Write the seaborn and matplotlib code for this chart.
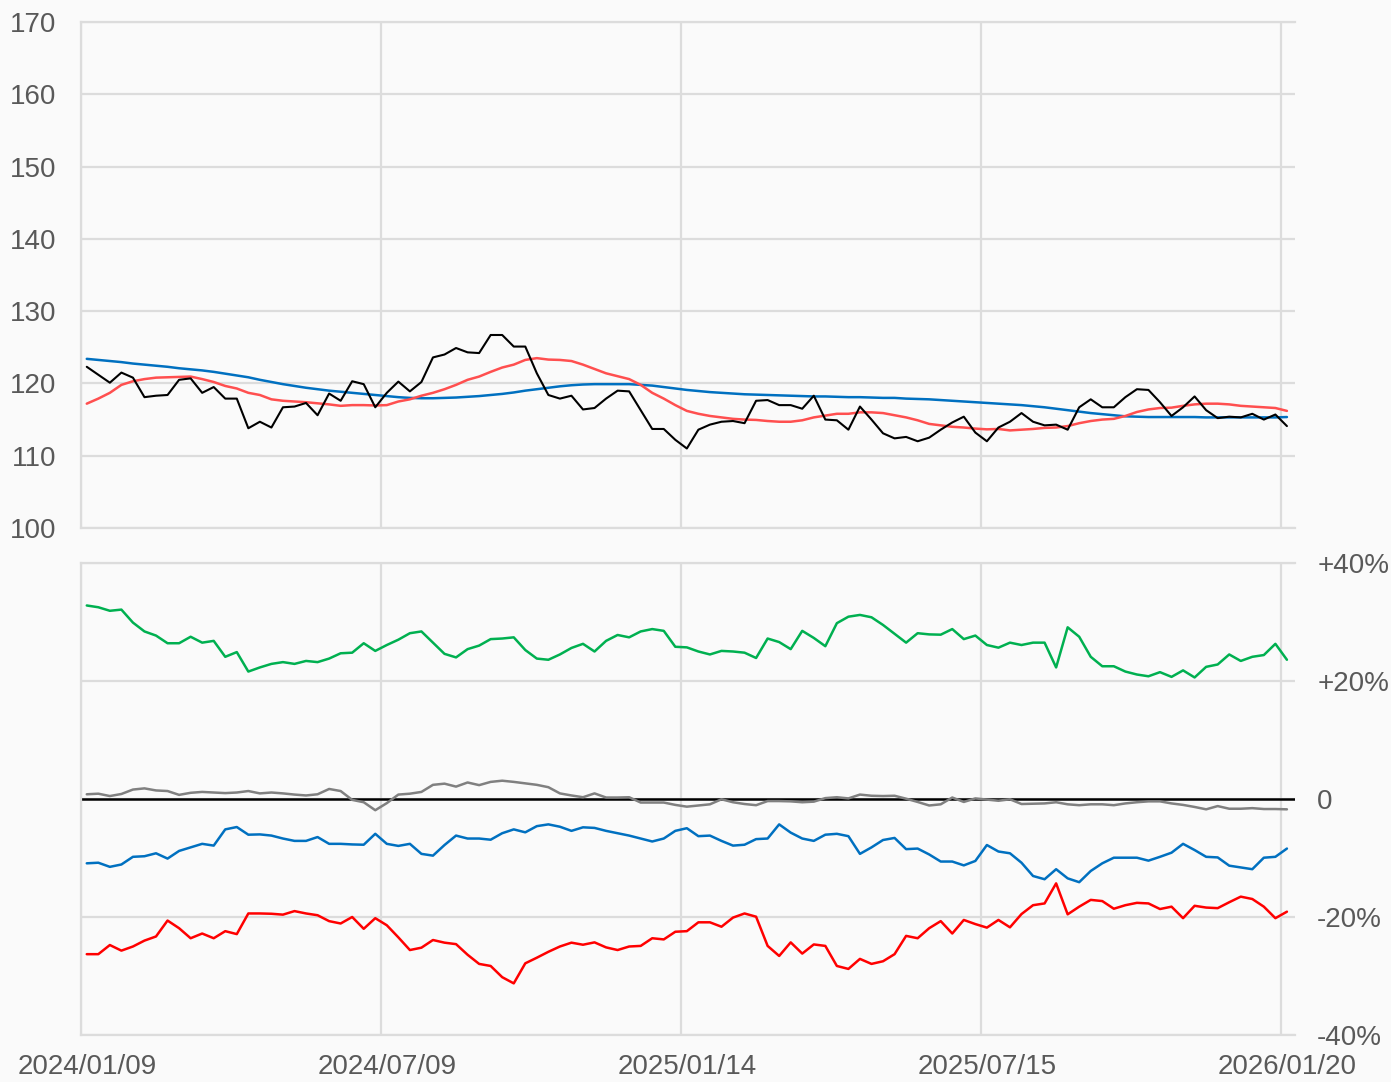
import matplotlib

matplotlib.use("Agg")
import matplotlib.pyplot as plt
import numpy as np
import seaborn as sns

# ---- weekly closing price and moving averages (top panel) ----
price = [
    122.3, 121.2, 120.1, 121.5, 120.8, 118.1, 118.3, 118.4, 120.5, 120.7,
    118.7, 119.5, 117.9, 117.9, 113.8, 114.7, 113.9, 116.7, 116.8, 117.3,
    115.6, 118.6, 117.6, 120.3, 119.9, 116.7, 118.7, 120.25, 118.9, 120.2,
    123.6, 124.0, 124.9, 124.3, 124.2, 126.7, 126.7, 125.1, 125.1, 121.4,
    118.4, 117.9, 118.3, 116.4, 116.6, 117.9, 119.0, 118.9, 116.3, 113.7,
    113.7, 112.2, 111.0, 113.6, 114.3, 114.7, 114.8, 114.5, 117.6, 117.7,
    117.0, 117.0, 116.5, 118.3, 115.0, 114.9, 113.6, 116.8, 115.0, 113.1,
    112.4, 112.6, 112.0, 112.5, 113.6, 114.6, 115.4, 113.2, 112.0, 113.9,
    114.7, 115.9, 114.7, 114.2, 114.3, 113.6, 116.7, 117.8, 116.7, 116.7,
    118.1, 119.2, 119.1, 117.4, 115.5, 116.7, 118.2, 116.3, 115.2, 115.4,
    115.3, 115.8, 115.0, 115.7, 114.1,
]
ma_short = [
    117.2, 117.9, 118.7, 119.8, 120.3, 120.6, 120.8, 120.85, 120.9, 120.95,
    120.6, 120.2, 119.65, 119.3, 118.7, 118.4, 117.8, 117.6, 117.5, 117.4,
    117.25, 117.1, 116.9, 117.0, 117.0, 116.95, 117.0, 117.5, 117.8, 118.3,
    118.7, 119.2, 119.8, 120.5, 120.95, 121.6, 122.2, 122.6, 123.25, 123.5,
    123.3, 123.25, 123.1, 122.6, 122.0, 121.4, 121.0, 120.6, 119.8, 118.7,
    117.9, 117.0, 116.2, 115.8, 115.5, 115.3, 115.1, 115.0, 114.95, 114.8,
    114.7, 114.7, 114.9, 115.3, 115.55, 115.8, 115.8, 116.0, 116.0, 115.9,
    115.6, 115.3, 114.9, 114.4, 114.2, 114.0, 113.9, 113.75, 113.65, 113.7,
    113.5, 113.6, 113.7, 113.85, 113.9, 114.1, 114.5, 114.8, 115.0, 115.1,
    115.5, 116.05, 116.4, 116.6, 116.65, 116.9, 117.1, 117.2, 117.2, 117.1,
    116.9, 116.8, 116.7, 116.6, 116.2,
]
ma_long = [
    123.4, 123.25, 123.1, 122.95, 122.75, 122.6, 122.45, 122.3, 122.1, 121.95,
    121.8, 121.6, 121.35, 121.1, 120.85, 120.5, 120.2, 119.9, 119.65, 119.4,
    119.2, 119.0, 118.85, 118.7, 118.55, 118.4, 118.25, 118.1, 118.0, 117.95,
    117.95, 118.0, 118.05, 118.15, 118.25, 118.4, 118.55, 118.75, 119.0, 119.2,
    119.4, 119.6, 119.75, 119.85, 119.9, 119.9, 119.9, 119.9, 119.8, 119.7,
    119.5, 119.3, 119.1, 118.95, 118.8, 118.7, 118.6, 118.5, 118.45, 118.4,
    118.35, 118.3, 118.25, 118.2, 118.2, 118.15, 118.1, 118.1, 118.05, 118.0,
    118.0, 117.9, 117.85, 117.8, 117.7, 117.6, 117.5, 117.4, 117.3, 117.2,
    117.1, 117.0, 116.85, 116.7, 116.5, 116.3, 116.1, 115.9, 115.75, 115.6,
    115.45, 115.4, 115.35, 115.35, 115.35, 115.35, 115.35, 115.3, 115.3, 115.3,
    115.3, 115.3, 115.3, 115.3, 115.35,
]

# ---- deviation rates in % (bottom panel) ----
dev_green = [
    32.8, 32.5, 31.9, 32.1, 29.9, 28.4, 27.7, 26.4, 26.4, 27.5,
    26.5, 26.8, 24.1, 24.9, 21.6, 22.3, 22.9, 23.2, 22.9, 23.4,
    23.2, 23.8, 24.7, 24.8, 26.4, 25.1, 26.1, 27.0, 28.1, 28.4,
    26.5, 24.6, 24.0, 25.4, 26.0, 27.1, 27.2, 27.4, 25.25, 23.8,
    23.6, 24.5, 25.6, 26.3, 25.0, 26.8, 27.8, 27.4, 28.4, 28.8,
    28.5, 25.8, 25.7, 25.0, 24.5, 25.1, 25.0, 24.8, 23.9, 27.2,
    26.6, 25.4, 28.5, 27.3, 25.9, 29.8, 30.9, 31.2, 30.8, 29.5,
    28.0, 26.5, 28.1, 27.9, 27.85, 28.8, 27.1, 27.7, 26.1, 25.65,
    26.5, 26.1, 26.5, 26.5, 22.3, 29.1, 27.5, 24.1, 22.5, 22.5,
    21.6, 21.1, 20.8, 21.5, 20.7, 21.8, 20.6, 22.4, 22.8, 24.5,
    23.4, 24.1, 24.4, 26.3, 23.6,
]
dev_gray = [
    0.8, 0.9, 0.5, 0.85, 1.6, 1.8, 1.45, 1.35, 0.7, 1.05,
    1.2, 1.1, 1.0, 1.1, 1.35, 0.95, 1.1, 0.95, 0.75, 0.6,
    0.8, 1.7, 1.35, -0.15, -0.55, -1.9, -0.7, 0.75, 0.9, 1.2,
    2.4, 2.6, 2.1, 2.8, 2.35, 2.9, 3.1, 2.9, 2.65, 2.4,
    2.0, 0.95, 0.6, 0.3, 0.95, 0.25, 0.25, 0.3, -0.6, -0.6,
    -0.6, -1.0, -1.3, -1.1, -0.9, -0.05, -0.55, -0.85, -1.05, -0.35,
    -0.35, -0.4, -0.55, -0.45, 0.15, 0.3, 0.1, 0.75, 0.55, 0.5,
    0.55, 0.05, -0.5, -1.1, -0.9, 0.25, -0.5, 0.1, -0.1, -0.3,
    -0.05, -0.85, -0.8, -0.75, -0.55, -0.9, -1.05, -0.9, -0.9, -1.05,
    -0.75, -0.55, -0.4, -0.4, -0.75, -1.0, -1.35, -1.75, -1.2, -1.65,
    -1.65, -1.55, -1.7, -1.7, -1.75,
]
dev_blue = [
    -10.9, -10.8, -11.5, -11.1, -9.8, -9.7, -9.2, -10.1, -8.8, -8.2,
    -7.6, -7.9, -5.15, -4.75, -6.05, -6.0, -6.2, -6.7, -7.1, -7.1,
    -6.45, -7.6, -7.6, -7.7, -7.75, -5.9, -7.6, -7.95, -7.6, -9.3,
    -9.6, -7.8, -6.2, -6.7, -6.7, -6.9, -5.8, -5.15, -5.65, -4.6,
    -4.3, -4.7, -5.4, -4.8, -4.9, -5.4, -5.8, -6.2, -6.7, -7.2,
    -6.7, -5.4, -4.95, -6.3, -6.2, -7.1, -7.9, -7.75, -6.8, -6.7,
    -4.3, -5.7, -6.7, -7.1, -6.05, -5.9, -6.3, -9.3, -8.2, -6.95,
    -6.6, -8.5, -8.4, -9.4, -10.6, -10.6, -11.25, -10.5, -7.8, -8.9,
    -9.2, -10.8, -13.05, -13.6, -11.9, -13.45, -14.1, -12.2, -10.9, -9.95,
    -9.95, -9.95, -10.45, -9.8, -9.1, -7.6, -8.65, -9.8, -9.9, -11.3,
    -11.6, -11.9, -9.95, -9.8, -8.4,
]
dev_red = [
    -26.3, -26.3, -24.75, -25.7, -25.0, -24.0, -23.3, -20.6, -21.9, -23.6,
    -22.8, -23.6, -22.4, -22.9, -19.4, -19.4, -19.45, -19.6, -19.0, -19.4,
    -19.7, -20.7, -21.1, -20.0, -22.0, -20.2, -21.4, -23.45, -25.6, -25.2,
    -23.9, -24.35, -24.6, -26.4, -27.95, -28.3, -30.2, -31.25, -27.85, -26.9,
    -25.9, -25.0, -24.35, -24.7, -24.3, -25.15, -25.6, -25.0, -24.9, -23.6,
    -23.8, -22.5, -22.4, -20.9, -20.9, -21.65, -20.1, -19.4, -19.95, -24.9,
    -26.6, -24.3, -26.2, -24.65, -24.9, -28.3, -28.8, -27.1, -27.95, -27.5,
    -26.3, -23.2, -23.6, -21.9, -20.7, -22.8, -20.5, -21.2, -21.8, -20.5,
    -21.75, -19.5, -18.0, -17.7, -14.3, -19.55, -18.25, -17.1, -17.3, -18.6,
    -18.0, -17.6, -17.7, -18.65, -18.25, -20.2, -18.1, -18.4, -18.5, -17.5,
    -16.55, -16.95, -18.25, -20.2, -19.1,
]

date_labels = ["2024/01/09", "2024/07/09", "2025/01/14", "2025/07/15", "2026/01/20"]
date_index = [0, 26, 52, 78, 104]
price_ticks = [100, 110, 120, 130, 140, 150, 160, 170]
dev_ticks = [-40, -20, 0, 20, 40]
dev_labels = ["-40%", "-20%", "0", "+20%", "+40%"]

BG = "#fafafa"
GRID = "#dcdcdc"
TEXT = "#595959"

sns.set_theme(style="white")
plt.rcParams["font.family"] = ["Liberation Sans", "DejaVu Sans"]

weeks = np.arange(len(price))

fig = plt.figure(figsize=(13.91, 10.82), dpi=100, facecolor=BG)
W, H = 1391, 1082
ax_top = fig.add_axes([81 / W, 1 - 528 / H, (1295 - 81) / W, 506 / H])
ax_bot = fig.add_axes([81 / W, 1 - 1035 / H, (1295 - 81) / W, 472 / H])


def style_axes(ax):
    ax.set_facecolor(BG)
    ax.set_xlim(-0.5, 104.7)
    ax.set_xticks(date_index)
    # vertical grid sits half a week before each labelled week
    ax.set_xticks([i - 0.5 for i in date_index], minor=True)
    ax.grid(False)
    ax.grid(axis="x", which="minor", color=GRID, linewidth=1.6)
    ax.grid(axis="y", which="major", color=GRID, linewidth=1.6)
    ax.set_axisbelow(True)
    ax.tick_params(which="both", length=0, labelsize=20, labelcolor=TEXT)
    for side in ["left", "top", "bottom"]:
        ax.spines[side].set_color(GRID)
        ax.spines[side].set_linewidth(1.6)
    ax.spines["right"].set_visible(False)
    ax.set_xlabel("")
    ax.set_ylabel("")


# ---- top panel: price + moving averages ----
sns.lineplot(x=weeks, y=ma_long, ax=ax_top, color="#0070c0", linewidth=1.8)
sns.lineplot(x=weeks, y=ma_short, ax=ax_top, color="#ff4f4f", linewidth=1.8)
sns.lineplot(x=weeks, y=price, ax=ax_top, color="black", linewidth=1.5)
style_axes(ax_top)
ax_top.set_ylim(100, 170)
ax_top.set_yticks(price_ticks)
ax_top.tick_params(axis="y", pad=18)
ax_top.set_xticklabels([])

# ---- bottom panel: deviation rates ----
sns.lineplot(x=weeks, y=dev_green, ax=ax_bot, color="#00b050", linewidth=1.8)
sns.lineplot(x=weeks, y=dev_gray, ax=ax_bot, color="#808080", linewidth=1.8)
sns.lineplot(x=weeks, y=dev_blue, ax=ax_bot, color="#0070c0", linewidth=1.8)
sns.lineplot(x=weeks, y=dev_red, ax=ax_bot, color="#ff0000", linewidth=1.8)
style_axes(ax_bot)
ax_bot.axhline(0, color="black", linewidth=1.8, zorder=1.5)
ax_bot.set_ylim(-40, 40)
ax_bot.yaxis.tick_right()
ax_bot.set_yticks(dev_ticks)
ax_bot.set_yticklabels(dev_labels)
ax_bot.tick_params(axis="y", pad=16)
ax_bot.set_xticklabels(date_labels)
ax_bot.tick_params(axis="x", pad=14)

fig.savefig("out.png", dpi=100, facecolor=BG)
plt.close(fig)
